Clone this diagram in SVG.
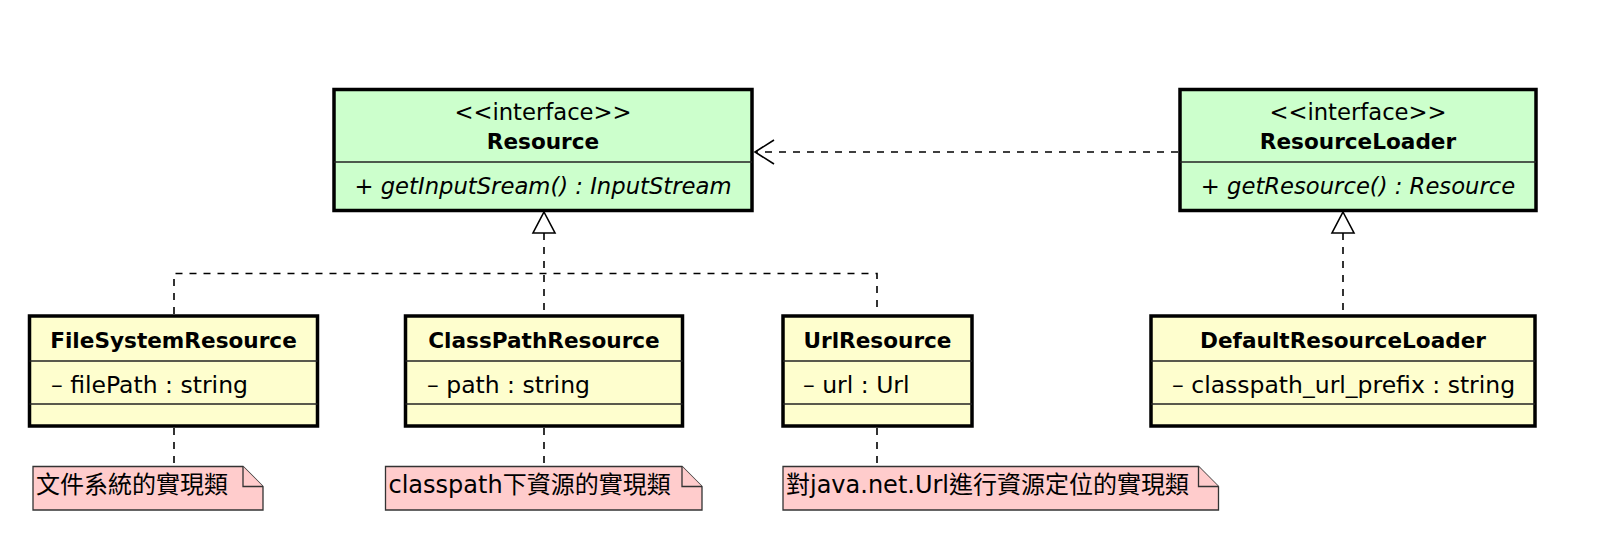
<svg xmlns="http://www.w3.org/2000/svg" width="1608" height="550" viewBox="0 0 1608 550">
<style>
text{font-family:"DejaVu Sans","Noto Sans CJK TC",sans-serif;font-size:22.7px;fill:#000}
.c{text-anchor:middle}
.b{font-weight:bold;font-size:21.6px}
.i{font-style:italic}
.a{font-size:23.5px}
.n{font-size:24px}
.iface{fill:#CCFFCC;stroke:#000;stroke-width:3.5}
.cls{fill:#FEFECE;stroke:#000;stroke-width:3.5}
.div{stroke:#222;stroke-width:1.6}
.note{fill:#FFCCCC;stroke:#333;stroke-width:1.3}
.dash{fill:none;stroke:#000;stroke-width:1.6;stroke-dasharray:7,7}
.head{fill:#fff;stroke:#000;stroke-width:1.6}
.open{fill:none;stroke:#000;stroke-width:1.6}
</style>
<rect width="1608" height="550" fill="#fff"/>
<g id="connectors">
<path class="dash" d="M174,314 V273.5 H877 V314"/>
<path class="dash" d="M544,233 V314"/>
<path class="dash" d="M1343,233 V314"/>
<path class="dash" d="M1178,152 H756"/>
<path class="dash" d="M174,428 V466"/>
<path class="dash" d="M544,428 V466"/>
<path class="dash" d="M877,428 V466"/>
<polygon class="head" points="544,212 555,233 533,233"/>
<polygon class="head" points="1343,212 1354,233 1332,233"/>
<polyline class="open" points="774,140 755,152 774,164"/>
</g>
<g id="Resource">
<rect class="iface" x="334" y="89.5" width="418" height="121"/>
<line class="div" x1="334" y1="162" x2="752" y2="162"/>
<text class="c" x="543" y="120">&lt;&lt;interface&gt;&gt;</text>
<text class="c b" x="543" y="149">Resource</text>
<text class="c i" x="543" y="194">+ getInputSream() : InputStream</text>
</g>
<g id="ResourceLoader">
<rect class="iface" x="1180" y="89.5" width="356" height="121"/>
<line class="div" x1="1180" y1="162" x2="1536" y2="162"/>
<text class="c" x="1358" y="120">&lt;&lt;interface&gt;&gt;</text>
<text class="c b" x="1358" y="149">ResourceLoader</text>
<text class="c i" x="1358" y="194">+ getResource() : Resource</text>
</g>
<g id="FileSystemResource">
<rect class="cls" x="29.5" y="316" width="288" height="110"/>
<line class="div" x1="29.5" y1="361" x2="317.5" y2="361"/>
<line class="div" x1="29.5" y1="404" x2="317.5" y2="404"/>
<text class="c b" x="173.5" y="348">FileSystemResource</text>
<text class="a" x="51" y="393">– filePath : string</text>
</g>
<g id="ClassPathResource">
<rect class="cls" x="405.5" y="316" width="277" height="110"/>
<line class="div" x1="405.5" y1="361" x2="682.5" y2="361"/>
<line class="div" x1="405.5" y1="404" x2="682.5" y2="404"/>
<text class="c b" x="544" y="348">ClassPathResource</text>
<text class="a" x="427" y="393">– path : string</text>
</g>
<g id="UrlResource">
<rect class="cls" x="783" y="316" width="189" height="110"/>
<line class="div" x1="783" y1="361" x2="972" y2="361"/>
<line class="div" x1="783" y1="404" x2="972" y2="404"/>
<text class="c b" x="877.5" y="348">UrlResource</text>
<text class="a" x="803" y="393">– url : Url</text>
</g>
<g id="DefaultResourceLoader">
<rect class="cls" x="1151" y="316" width="384" height="110"/>
<line class="div" x1="1151" y1="361" x2="1535" y2="361"/>
<line class="div" x1="1151" y1="404" x2="1535" y2="404"/>
<text class="c b" x="1343" y="348">DefaultResourceLoader</text>
<text class="a" x="1172" y="393">– classpath_url_prefix : string</text>
</g>
<g id="note1">
<path class="note" d="M33,466.5 H243 L263,486.5 V510 H33 Z"/>
<path class="note" d="M243,466.5 V486.5 H263"/>
<text class="n" x="36" y="493">文件系統的實現類</text>
</g>
<g id="note2">
<path class="note" d="M385.5,466.5 H682 L702,486.5 V510 H385.5 Z"/>
<path class="note" d="M682,466.5 V486.5 H702"/>
<text class="n" x="388.5" y="493">classpath下資源的實現類</text>
</g>
<g id="note3">
<path class="note" d="M783,466.5 H1198.5 L1218.5,486.5 V510 H783 Z"/>
<path class="note" d="M1198.5,466.5 V486.5 H1218.5"/>
<text class="n" x="786" y="493">對java.net.Url進行資源定位的實現類</text>
</g>
</svg>
